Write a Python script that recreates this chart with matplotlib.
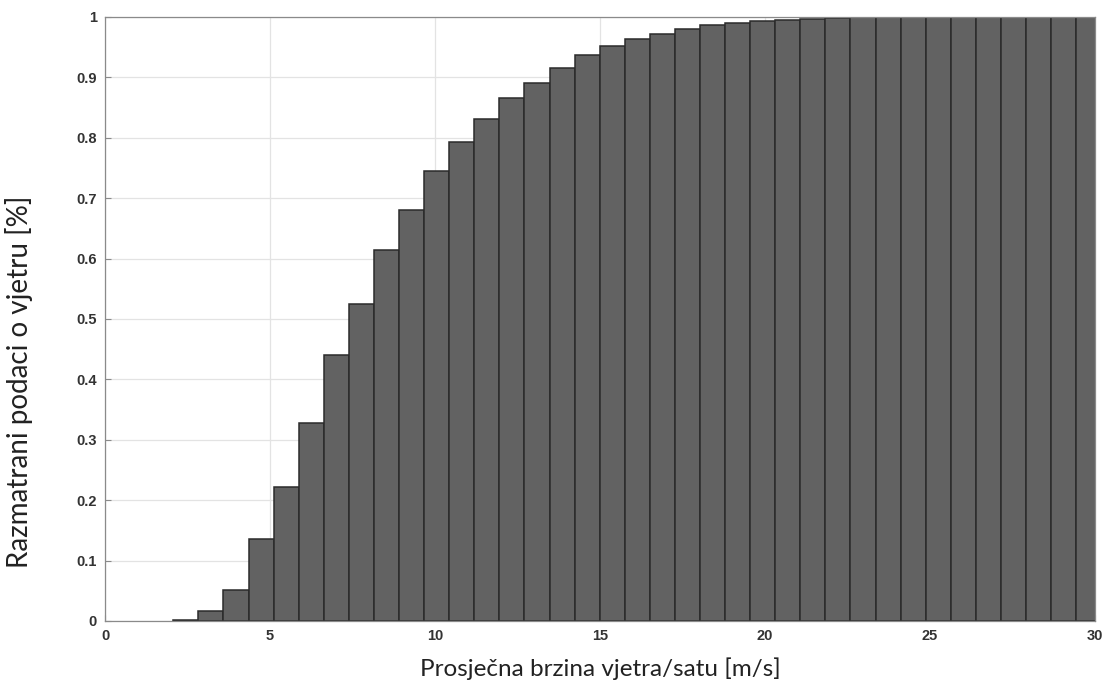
import matplotlib
matplotlib.use("Agg")
import matplotlib.pyplot as plt
import numpy as np

# cumulative share of wind data per speed bin
bin_start = 2.07      # left edge of first non-empty bin [m/s]
bin_width = 0.76      # bin width [m/s]
cum_share = [0.002, 0.016, 0.052, 0.136, 0.222, 0.327, 0.440, 0.525, 0.614,
             0.680, 0.745, 0.793, 0.831, 0.866, 0.891, 0.916, 0.937, 0.952,
             0.963, 0.972, 0.980, 0.986, 0.990, 0.993, 0.995, 0.997, 0.999,
             1.0, 1.0, 1.0, 1.0, 1.0, 1.0, 1.0, 1.0, 1.0, 1.0]
xticks = [0, 5, 10, 15, 20, 25, 30]
yticks = [0, 0.1, 0.2, 0.3, 0.4, 0.5, 0.6, 0.7, 0.8, 0.9, 1]
ytick_labels = ['0', '0.1', '0.2', '0.3', '0.4', '0.5', '0.6', '0.7', '0.8', '0.9', '1']

xlabel = 'Prosječna brzina vjetra/satu [m/s]'
ylabel = 'Razmatrani podaci o vjetru [%]'

fig = plt.figure(figsize=(11.09, 6.88), dpi=100)
ax = fig.add_axes([0.0947, 0.0974, 0.8927, 0.8779])

lefts = bin_start + bin_width * np.arange(len(cum_share))
ax.bar(lefts, cum_share, width=bin_width, align='edge',
       color='#626262', edgecolor='#2b2b2b', linewidth=1.1, zorder=2)

ax.set_xlim(0, 30)
ax.set_ylim(0, 1)
ax.set_xticks(xticks)
ax.set_yticks(yticks)
ax.set_yticklabels(ytick_labels)
ax.grid(True, color='#e3e3e3', linewidth=0.9, zorder=0)
ax.set_axisbelow(True)

for s in ax.spines.values():
    s.set_color('#8a8a8a')
    s.set_linewidth(0.9)
ax.tick_params(direction='in', length=4, color='#8a8a8a', labelsize=10.5,
               labelcolor='#333333', pad=6)
for lab in ax.get_xticklabels() + ax.get_yticklabels():
    lab.set_family('Liberation Sans')
    lab.set_fontweight('bold')

ax.set_xlabel(xlabel, family='Lato', fontsize=17.5, color='#222222', labelpad=10)
ax.set_ylabel(ylabel, family='Lato', fontsize=20, color='#222222')
ax.yaxis.set_label_coords(-0.073, 0.396)

plt.savefig('out.png', dpi=100)
